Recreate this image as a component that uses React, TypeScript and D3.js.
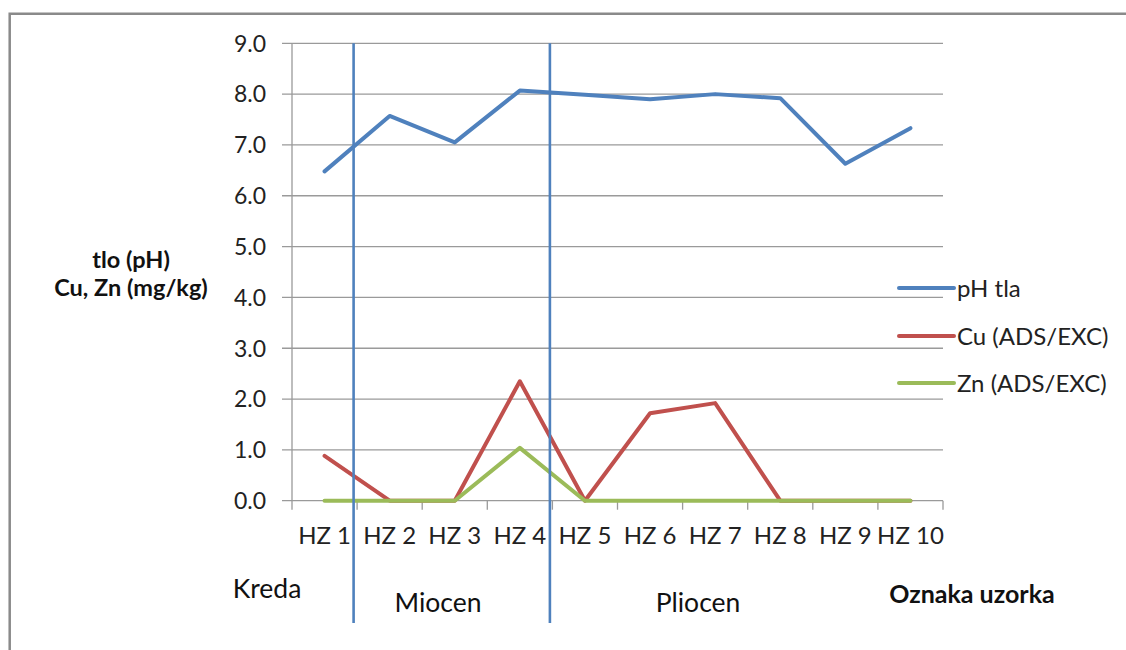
import React from "react";
import * as d3 from "d3";

const categories = ["HZ 1", "HZ 2", "HZ 3", "HZ 4", "HZ 5", "HZ 6", "HZ 7", "HZ 8", "HZ 9", "HZ 10"];
const phValues = [6.48, 7.57, 7.05, 8.07, 7.99, 7.9, 8.0, 7.92, 6.63, 7.33];
const cuValues = [0.88, 0, 0, 2.35, 0, 1.72, 1.92, 0, 0, 0];
const znValues = [0, 0, 0, 1.04, 0, 0, 0, 0, 0, 0];
const yTicks = [0, 1, 2, 3, 4, 5, 6, 7, 8, 9];
const seriesNames = ["pH tla", "Cu (ADS/EXC)", "Zn (ADS/EXC)"];
const colors = ["#4F81BD", "#C0504D", "#9BBB59"];
const yTitle = ["tlo (pH)", "Cu, Zn (mg/kg)"];
const periods = ["Kreda", "Miocen", "Pliocen"];
const xTitle = "Oznaka uzorka";

const W = 1126;
const H = 650;
const left = 292;
const right = 943;
const top = 43.3;
const bottom = 500.7;
const FONT = "Lato, 'Open Sans', sans-serif";

export default function App() {
  const x = d3.scaleBand<string>().domain(categories).range([left, right]).padding(0);
  const y = d3.scaleLinear().domain([0, 9]).range([bottom, top]);
  const cx = (c: string) => (x(c) as number) + x.bandwidth() / 2;
  const line = d3
    .line<number>()
    .x((_, i) => cx(categories[i]))
    .y((d) => y(d));
  const series = [phValues, cuValues, znValues];
  const bounds = categories.map((c) => x(c) as number).concat([right]);

  // separators between periods (slightly left of the band boundaries)
  const sep1 = (x("HZ 2") as number) - 3.5;
  const sep2 = (x("HZ 5") as number) - 2.5;

  const legendY = [288, 336, 383];

  return (
    <svg
      width={W}
      height={H}
      style={{ position: "absolute", left: 0, top: 0, background: "#fff" }}
      fontFamily={FONT}
    >
      <rect x={0} y={0} width={W} height={H} fill="#fff" />
      {/* chart frame (cut off on right and bottom) */}
      <path d={`M9.7,${H + 10} V13.8 H${W + 10}`} fill="none" stroke="#8a8a8a" strokeWidth={2.5} />

      {/* gridlines */}
      {yTicks.map((t) => (
        <line key={t} x1={left - 10} x2={right} y1={y(t)} y2={y(t)} stroke="#9a9a9a" strokeWidth={1.3} />
      ))}
      {/* y axis */}
      <line x1={left} x2={left} y1={top} y2={bottom} stroke="#9a9a9a" strokeWidth={1.3} />
      {/* x axis tick marks */}
      {bounds.map((b, i) => (
        <line key={i} x1={b} x2={b} y1={bottom} y2={bottom + 9} stroke="#9a9a9a" strokeWidth={1.3} />
      ))}

      {/* y tick labels */}
      {yTicks.map((t) => (
        <text key={t} x={266} y={y(t)} dy="0.36em" textAnchor="end" fontSize={23} fill="#222">
          {t.toFixed(1)}
        </text>
      ))}
      {/* x tick labels */}
      {categories.map((c) => (
        <text key={c} x={cx(c)} y={544} textAnchor="middle" fontSize={24} fill="#222">
          {c}
        </text>
      ))}

      {/* series */}
      {series.map((s, i) => (
        <path
          key={i}
          d={line(s) as string}
          fill="none"
          stroke={colors[i]}
          strokeWidth={4}
          strokeLinejoin="round"
          strokeLinecap="round"
        />
      ))}

      {/* period separators */}
      {[sep1, sep2].map((sx, i) => (
        <line key={i} x1={sx} x2={sx} y1={top} y2={623} stroke="#4F81BD" strokeWidth={2.6} />
      ))}

      {/* legend */}
      {seriesNames.map((n, i) => (
        <g key={n}>
          <line x1={899} x2={954} y1={legendY[i]} y2={legendY[i]} stroke={colors[i]} strokeWidth={4} strokeLinecap="round" />
          <text x={957} y={legendY[i]} dy="0.36em" fontSize={24} fill="#222">
            {n}
          </text>
        </g>
      ))}

      {/* y title */}
      {yTitle.map((t, i) => (
        <text key={t} x={131} y={268 + i * 28} textAnchor="middle" fontSize={23.5} fontWeight="bold" fill="#111">
          {t}
        </text>
      ))}

      {/* period labels */}
      <text x={267} y={598} textAnchor="middle" fontSize={26.5} fill="#111">
        {periods[0]}
      </text>
      <text x={438} y={612} textAnchor="middle" fontSize={26.5} fill="#111">
        {periods[1]}
      </text>
      <text x={698} y={612} textAnchor="middle" fontSize={26.5} fill="#111">
        {periods[2]}
      </text>
      <text x={972} y={603} textAnchor="middle" fontSize={25} fontWeight="bold" fill="#111">
        {xTitle}
      </text>
    </svg>
  );
}
